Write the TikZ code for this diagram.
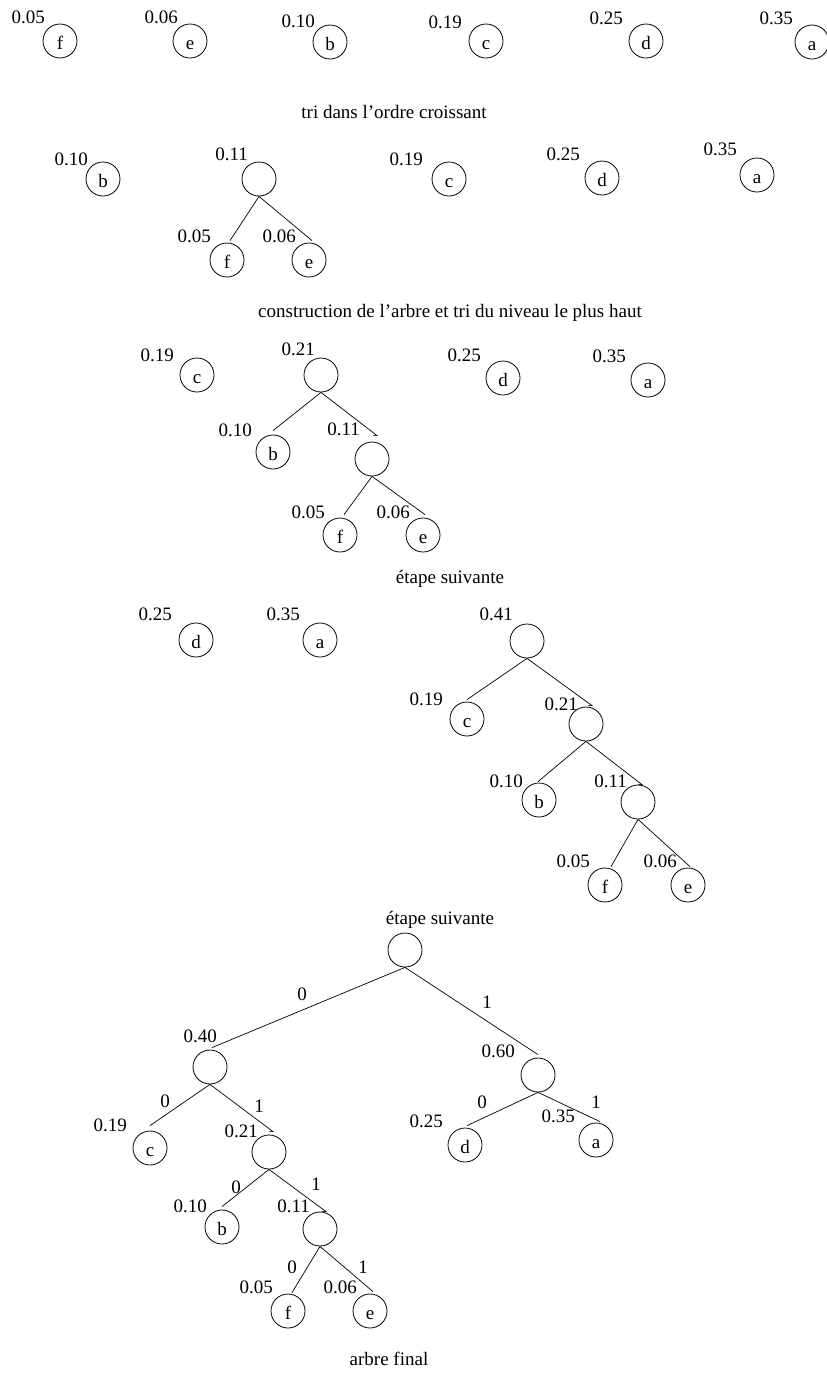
\documentclass[tikz,border=0pt]{standalone}
\usepackage{fontspec}
\setmainfont{Liberation Serif}
\usetikzlibrary{calc}
\newcommand\figfont{\fontsize{19}{22}\selectfont}
\tikzset{
  nd/.style={circle,draw,line width=0.8pt,minimum size=34pt,inner sep=0pt,font=\figfont,text height=16pt,text depth=0pt},
  lb/.style={anchor=base east,inner sep=0pt,font=\figfont},
  bit/.style={anchor=base,inner sep=0pt,font=\figfont},
  captxt/.style={anchor=base,inner sep=0pt,font=\figfont},
  conn/.style={line width=0.7pt}
}
\begin{document}
\begin{tikzpicture}[x=1pt,y=-1pt]
\useasboundingbox (0,0) rectangle (827,1374);
% ---------- row 1
\node[nd] (r1f) at (60,41) {f};   \node[lb] (r1fl) at (45,23) {0.05};
\node[nd] (r1e) at (190,41) {e};  \node[lb] (r1el) at (178,23) {0.06};
\node[nd] (r1b) at (330,42) {b};  \node[lb] (r1bl) at (315,27) {0.10};
\node[nd] (r1c) at (486,41) {c};  \node[lb] (r1cl) at (462,28) {0.19};
\node[nd] (r1d) at (646,41) {d};  \node[lb] (r1dl) at (623,24) {0.25};
\node[nd] (r1a) at (812,42) {a};  \node[lb] (r1al) at (793,24) {0.35};
\node[captxt] (cap1) at (394,118) {tri dans l'ordre croissant};
% ---------- row 2
\node[nd] (r2b) at (103,179) {b};  \node[lb] (r2bl) at (88,165) {0.10};
\node[nd] (r2n11) at (259,179) {}; \node[lb] (r2n11l) at (248,160) {0.11};
\node[nd] (r2f) at (227,260) {f};  \node[lb] (r2fl) at (211,242) {0.05};
\node[nd] (r2e) at (309,260) {e};  \node[lb] (r2el) at (296,242) {0.06};
\node[nd] (r2c) at (449,179) {c};  \node[lb] (r2cl) at (423,165) {0.19};
\node[nd] (r2d) at (602,178) {d};  \node[lb] (r2dl) at (580,160) {0.25};
\node[nd] (r2a) at (757,175) {a};  \node[lb] (r2al) at (737,155) {0.35};
\draw[conn] (r2n11.south) -- ($(r2f.north)+(3,-2)$);
\draw[conn] (r2n11.south) -- ($(r2e.north)+(3,-2)$);
\node[captxt] (cap2) at (450,317) {construction de l'arbre et tri du niveau le plus haut};
% ---------- row 3
\node[nd] (r3c) at (197,375) {c};  \node[lb] (r3cl) at (174,361) {0.19};
\node[nd] (r3n21) at (321,375) {}; \node[lb] (r3n21l) at (315,355) {0.21};
\node[nd] (r3d) at (503,378) {d};  \node[lb] (r3dl) at (481,361) {0.25};
\node[nd] (r3a) at (648,380) {a};  \node[lb] (r3al) at (626,362) {0.35};
\node[nd] (r3b) at (273,452) {b};  \node[lb] (r3bl) at (252,436) {0.10};
\node[nd] (r3n11) at (372,459) {}; \node[lb] (r3n11l) at (360,435) {0.11};
\node[nd] (r3f) at (340,535) {f};  \node[lb] (r3fl) at (325,518) {0.05};
\node[nd] (r3e) at (423,535) {e};  \node[lb] (r3el) at (410,518) {0.06};
\draw[conn] (r3n21.south) -- ($(r3b.north)+(0,-4)$);
\draw[conn] (r3n21.south) -- ($(r3n11.north)+(5,-6)$) -- ++(-4,0);
\draw[conn] (r3n11.south) -- ($(r3f.north)+(4,-3)$);
\draw[conn] (r3n11.south) -- ($(r3e.north)+(2,-3)$);
\node[captxt] (cap3) at (450,583) {étape suivante};
% ---------- row 4
\node[nd] (r4d) at (196,640) {d};  \node[lb] (r4dl) at (172,620) {0.25};
\node[nd] (r4a) at (320,640) {a};  \node[lb] (r4al) at (300,620) {0.35};
\node[nd] (r4n41) at (527,641) {}; \node[lb] (r4n41l) at (513,620) {0.41};
\node[nd] (r4c) at (467,719) {c};  \node[lb] (r4cl) at (443,705) {0.19};
\node[nd] (r4n21) at (586,724) {}; \node[lb] (r4n21l) at (578,710) {0.21};
\node[nd] (r4b) at (539,800) {b};  \node[lb] (r4bl) at (523,787) {0.10};
\node[nd] (r4n11) at (638,802) {}; \node[lb] (r4n11l) at (627,787) {0.11};
\node[nd] (r4f) at (605,885) {f};  \node[lb] (r4fl) at (590,867) {0.05};
\node[nd] (r4e) at (688,885) {e};  \node[lb] (r4el) at (677,867) {0.06};
\draw[conn] (r4n41.south) -- ($(r4c.north)+(0,-2)$);
\draw[conn] (r4n41.south) -- ($(r4n21.north)+(6,-1)$) -- ++(-4,0);
\draw[conn] (r4n21.south) -- ($(r4b.north)+(-1,-1)$);
\draw[conn] (r4n21.south) -- ($(r4n11.north)+(4,0)$) -- ++(-4,0);
\draw[conn] (r4n11.south) -- ($(r4f.north)+(6,-1)$);
\draw[conn] (r4n11.south) -- ($(r4e.north)+(2,-1)$);
\node[captxt] (cap4) at (440,924) {étape suivante};
% ---------- final tree
\node[nd] (root) at (405,950) {};
\node[nd] (fn40) at (210,1067) {};  \node[lb] (fn40l) at (217,1042) {0.40};
\node[nd] (fn60) at (538,1075) {};  \node[lb] (fn60l) at (515,1057) {0.60};
\node[nd] (fc) at (150,1148) {c};   \node[lb] (fcl) at (127,1131) {0.19};
\node[nd] (fn21) at (269,1152) {};  \node[lb] (fn21l) at (258,1137) {0.21};
\node[nd] (fd) at (465,1145) {d};   \node[lb] (fdl) at (443,1127) {0.25};
\node[nd] (fa) at (596,1140) {a};   \node[lb] (fal) at (575,1122) {0.35};
\node[nd] (fb) at (222,1227) {b};   \node[lb] (fbl) at (207,1212) {0.10};
\node[nd] (fn11) at (320,1229) {};  \node[lb] (fn11l) at (310,1212) {0.11};
\node[nd] (ff) at (288,1311) {f};   \node[lb] (ffl) at (273,1293) {0.05};
\node[nd] (fe) at (370,1311) {e};   \node[lb] (fel) at (357,1293) {0.06};
\draw[conn] (root.south) -- ($(fn40.north)+(2,-2)$);
\draw[conn] (root.south) -- ($(fn60.north)+(0,-3)$);
\draw[conn] (fn40.south) -- ($(fc.north)+(0,-5)$);
\draw[conn] (fn40.south) -- ($(fn21.north)+(4,-3)$) -- ++(-4,0);
\draw[conn] (fn60.south) -- ($(fd.north)+(2,-2)$);
\draw[conn] (fn60.south) -- ($(fa.north)+(4,-1)$);
\draw[conn] (fn21.south) -- ($(fb.north)+(0,-3)$);
\draw[conn] (fn21.south) -- ($(fn11.north)+(6,0)$) -- ++(-4,0);
\draw[conn] (fn11.south) -- ($(ff.north)+(4,-1)$);
\draw[conn] (fn11.south) -- ($(fe.north)+(3,-2)$);
\node[bit] (b1) at (302,1000) {0};
\node[bit] (b2) at (487,1008) {1};
\node[bit] (b3) at (165,1107) {0};
\node[bit] (b4) at (259,1112) {1};
\node[bit] (b5) at (482,1108) {0};
\node[bit] (b6) at (596,1108) {1};
\node[bit] (b7) at (236,1193) {0};
\node[bit] (b8) at (316,1190) {1};
\node[bit] (b9) at (292,1273) {0};
\node[bit] (b10) at (363,1273) {1};
\node[captxt] (cap5) at (389,1365) {arbre final};
\end{tikzpicture}
\end{document}
